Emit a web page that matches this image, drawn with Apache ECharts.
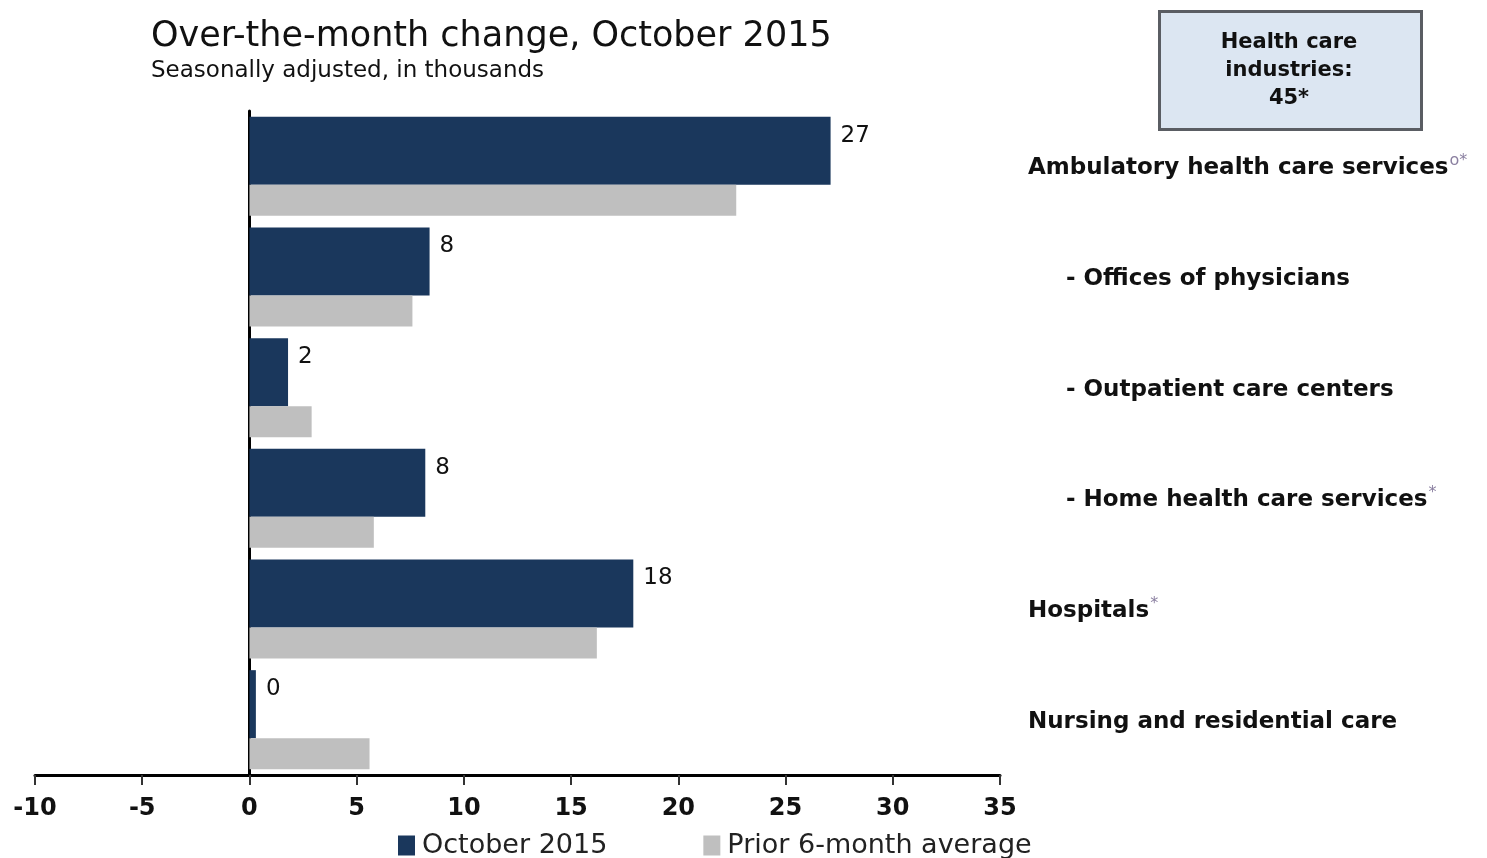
<!DOCTYPE html>
<html>
<head>
<meta charset="utf-8">
<title>Health care employment, October 2015</title>
<script src="https://cdn.jsdelivr.net/npm/echarts@6/dist/echarts.min.js"></script>
<style>
  html, body { margin: 0; padding: 0; background: #fff; }
  #chart { width: 1487px; height: 858px; }
</style>
</head>
<body>
<div id="chart"></div>
<script>
// industries, top to bottom
const categories = ['Ambulatory health care services', 'Offices of physicians', 'Outpatient care centers',
  'Home health care services', 'Hospitals', 'Nursing and residential care'];
const isSubIndustry = [false, true, true, true, false, false];
const footnoteMarks = ['o*', '', '', '*', '*', ''];

// over-the-month change, thousands
const october2015 = [27.1, 8.4, 1.8, 8.2, 17.9, 0.3];
const prior6MonthAvg = [22.7, 7.6, 2.9, 5.8, 16.2, 5.6];

const xTicks = [-10, -5, 0, 5, 10, 15, 20, 25, 30, 35];
const totalText = ['Health care', 'industries:', '45*'];

const font = 'DejaVu Sans';
const navy = '#1a375c';
const grey = '#bfbfbf';

let chart = echarts.init(document.getElementById('chart'));

const catAxisBase = {
  type: 'category',
  data: categories,
  inverse: true,
  axisTick: {show: false}
};

chart.setOption({
  animation: false,
  textStyle: {fontFamily: font},
  title: {
    text: 'Over-the-month change, October 2015',
    subtext: 'Seasonally adjusted, in thousands',
    left: 146,
    top: 14,
    itemGap: 6,
    textStyle: {fontFamily: font, fontSize: 35, fontWeight: 'normal', color: '#111'},
    subtextStyle: {fontFamily: font, fontSize: 23, color: '#111'}
  },
  legend: {
    left: 398,
    top: 832,
    padding: 0,
    itemWidth: 17,
    itemHeight: 20,
    itemGap: 96,
    icon: 'rect',
    textStyle: {fontFamily: font, fontSize: 27, color: '#222', padding: [0, 0, 0, 2]},
    data: ['October 2015', 'Prior 6-month average']
  },
  grid: {left: 35, right: 487, top: 111, bottom: 83},
  xAxis: {
    type: 'value',
    min: xTicks[0],
    max: xTicks[xTicks.length - 1],
    interval: 5,
    splitLine: {show: false},
    axisLine: {show: true, onZero: false, lineStyle: {color: '#000', width: 3}},
    axisTick: {show: true, length: 10, lineStyle: {color: '#333', width: 2}},
    axisLabel: {margin: 22, fontFamily: font, fontSize: 24, fontWeight: 'bold', color: '#111'}
  },
  yAxis: [
    Object.assign({}, catAxisBase, {
      position: 'left',
      axisLine: {show: true, onZero: true, lineStyle: {color: '#000', width: 3}},
      axisLabel: {show: false}
    }),
    Object.assign({}, catAxisBase, {
      position: 'right',
      axisLine: {show: false},
      axisLabel: {
        margin: 28,
        align: 'left',
        formatter: function (name, i) {
          let s = isSubIndustry[i] ? '{gap| }{t|- ' + name + '}' : '{t|' + name + '}';
          if (footnoteMarks[i]) s += '{sup|' + footnoteMarks[i] + '}';
          return s;
        },
        rich: {
          gap: {width: 38},
          t: {fontFamily: font, fontSize: 23, fontWeight: 'bold', color: '#111', padding: [4, 0, 0, 0]},
          sup: {fontFamily: font, fontSize: 16, color: '#8a7fa0', padding: [0, 0, 10, 1]}
        }
      }
    })
  ],
  series: [
    {
      name: 'October 2015',
      type: 'bar',
      data: october2015,
      barWidth: 68,
      barGap: '0%',
      itemStyle: {color: navy},
      label: {
        show: true,
        position: 'right',
        distance: 10,
        offset: [0, -15],
        fontFamily: font,
        fontSize: 23,
        color: '#111',
        formatter: function (p) { return Math.round(p.value); }
      }
    },
    {
      name: 'Prior 6-month average',
      type: 'bar',
      data: prior6MonthAvg,
      barWidth: 31,
      barGap: '0%',
      itemStyle: {color: grey}
    }
  ],
  graphic: [
    {
      type: 'rect',
      left: 1158,
      top: 10,
      shape: {width: 262, height: 118},
      style: {fill: '#dce6f2', stroke: '#5a5d63', lineWidth: 3}
    },
    {
      type: 'text',
      x: 1289,
      y: 29,
      style: {
        text: totalText.join('\n'),
        align: 'center',
        fontFamily: font,
        fontSize: 21,
        fontWeight: 'bold',
        lineHeight: 28,
        fill: '#111'
      }
    }
  ]
});
</script>
</body>
</html>
